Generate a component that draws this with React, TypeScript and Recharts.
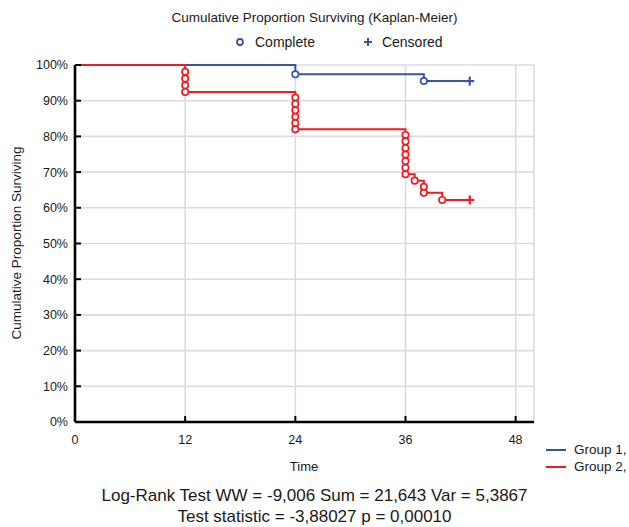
import React from 'react';
import {
  ComposedChart,
  Line,
  Scatter,
  XAxis,
  YAxis,
  CartesianGrid,
} from 'recharts';

// survival curve steps (time, % surviving)
const group1Steps = [
  { t: 0, s: 100 },
  { t: 24, s: 97.4 },
  { t: 38, s: 95.5 },
  { t: 43, s: 95.5 },
];
const group2Steps = [
  { t: 0, s: 100 },
  { t: 12, s: 92.45 },
  { t: 24, s: 82.0 },
  { t: 36, s: 69.4 },
  { t: 37, s: 67.6 },
  { t: 38, s: 64.2 },
  { t: 40, s: 62.2 },
  { t: 43, s: 62.2 },
];

// complete (event) markers
const group1Complete = [
  { t: 24, s: 97.4 },
  { t: 38, s: 95.5 },
];
const group2Complete = [
  { t: 12, s: 98.1 },
  { t: 12, s: 96.2 },
  { t: 12, s: 94.3 },
  { t: 12, s: 92.45 },
  { t: 24, s: 90.9 },
  { t: 24, s: 89.1 },
  { t: 24, s: 87.3 },
  { t: 24, s: 85.5 },
  { t: 24, s: 83.7 },
  { t: 24, s: 82.0 },
  { t: 36, s: 80.4 },
  { t: 36, s: 78.6 },
  { t: 36, s: 76.7 },
  { t: 36, s: 74.9 },
  { t: 36, s: 73.1 },
  { t: 36, s: 71.2 },
  { t: 36, s: 69.4 },
  { t: 37, s: 67.6 },
  { t: 38, s: 65.9 },
  { t: 38, s: 64.2 },
  { t: 40, s: 62.2 },
];

// censored markers
const group1Censored = [{ t: 43, s: 95.5 }];
const group2Censored = [{ t: 43, s: 62.2 }];

const xTicks = [0, 12, 24, 36, 48];
const yTicks = [0, 10, 20, 30, 40, 50, 60, 70, 80, 90, 100];
const topTicks = [0, 5.556, 11.111, 16.667, 22.222, 27.778, 33.333, 38.889, 44.444, 50];
const rightTicks = [0, 8.333, 16.667, 25, 33.333, 41.667, 50, 58.333, 66.667, 75, 83.333, 91.667, 100];

const BLUE = '#3a54a0';
const RED = '#f01c24';
const FONT = '"Liberation Sans", Arial, sans-serif';

const makeCircle = (color: string) => (props: any) => {
  const { cx, cy } = props;
  if (cx == null || cy == null) return <g />;
  return <circle cx={cx} cy={cy} r={3.2} fill="#ffffff" stroke={color} strokeWidth={1.7} />;
};

const makePlus = (color: string) => (props: any) => {
  const { cx, cy } = props;
  if (cx == null || cy == null) return <g />;
  return (
    <g stroke={color} strokeWidth={2.2}>
      <line x1={cx - 4.5} y1={cy} x2={cx + 4.5} y2={cy} />
      <line x1={cx} y1={cy - 4.5} x2={cx} y2={cy + 4.5} />
    </g>
  );
};

const tickStyle = { fill: '#1a1a1a', fontSize: 12.5, fontFamily: FONT };
const axisLineStyle = { stroke: '#000000', strokeWidth: 2.6 };
const tickLineStyle = { stroke: '#000000', strokeWidth: 2 };

export default function App() {
  return (
    <div style={{ position: 'absolute', left: 0, top: 0, width: 629, height: 527, background: '#fff', fontFamily: FONT, color: '#1a1a1a' }}>
      <div style={{ position: 'absolute', left: 0, width: 629, top: 10, textAlign: 'center', fontSize: 13.5 }}>
        Cumulative Proportion Surviving (Kaplan-Meier)
      </div>
      <div style={{ position: 'absolute', left: 233, top: 34, fontSize: 14, display: 'flex', alignItems: 'center' }}>
        <svg width={14} height={14}><circle cx={7} cy={7} r={3} fill="#fff" stroke={BLUE} strokeWidth={1.8} /></svg>
        <span style={{ marginLeft: 8 }}>Complete</span>
        <svg width={14} height={14} style={{ marginLeft: 46 }}>
          <g stroke={BLUE} strokeWidth={2}><line x1={3} y1={7} x2={11} y2={7} /><line x1={7} y1={3} x2={7} y2={11} /></g>
        </svg>
        <span style={{ marginLeft: 7 }}>Censored</span>
      </div>
      <div style={{ position: 'absolute', left: 16, top: 243, fontSize: 13.5, whiteSpace: 'nowrap', transform: 'translate(-50%, -50%) rotate(-90deg)' }}>
        Cumulative Proportion Surviving
      </div>
      <div style={{ position: 'absolute', left: 304, top: 466, fontSize: 13, transform: 'translate(-50%, -50%)' }}>Time</div>

      <ComposedChart
        width={629}
        height={527}
        margin={{ top: 65, right: 95, bottom: 75, left: 15 }}
        style={{ position: 'absolute', left: 0, top: 0 }}
      >
        <CartesianGrid stroke="#dcdcdc" strokeWidth={1.6} />
        <XAxis
          dataKey="t"
          type="number"
          domain={[0, 50]}
          ticks={xTicks}
          height={30}
          tick={tickStyle}
          tickSize={-6}
          tickMargin={19}
          axisLine={axisLineStyle}
          tickLine={tickLineStyle}
        />
        <XAxis
          xAxisId="top"
          orientation="top"
          dataKey="t"
          type="number"
          domain={[0, 50]}
          ticks={topTicks}
          height={0}
          tickFormatter={() => ''}
          tickSize={-6}
          axisLine={axisLineStyle}
          tickLine={tickLineStyle}
        />
        <YAxis
          dataKey="s"
          type="number"
          domain={[0, 100]}
          ticks={yTicks}
          width={60}
          tick={tickStyle}
          tickFormatter={(v) => `${v}%`}
          tickSize={-6}
          tickMargin={13}
          axisLine={axisLineStyle}
          tickLine={tickLineStyle}
        />
        <YAxis
          yAxisId="right"
          orientation="right"
          dataKey="s"
          type="number"
          domain={[0, 100]}
          ticks={rightTicks}
          width={0}
          tickFormatter={() => ''}
          tickSize={-6}
          axisLine={axisLineStyle}
          tickLine={tickLineStyle}
        />
        <Line data={group1Steps} dataKey="s" type="stepAfter" stroke={BLUE} strokeWidth={2} dot={false} activeDot={false} isAnimationActive={false} />
        <Scatter data={group1Complete} dataKey="s" shape={makeCircle(BLUE)} isAnimationActive={false} />
        <Scatter data={group1Censored} dataKey="s" xAxisId="top" yAxisId="right" shape={makePlus(BLUE)} isAnimationActive={false} />
        <Line data={group2Steps} dataKey="s" type="stepAfter" stroke={RED} strokeWidth={2} dot={false} activeDot={false} isAnimationActive={false} />
        <Scatter data={group2Complete} dataKey="s" shape={makeCircle(RED)} isAnimationActive={false} />
        <Scatter data={group2Censored} dataKey="s" xAxisId="top" yAxisId="right" shape={makePlus(RED)} isAnimationActive={false} />
      </ComposedChart>

      <div style={{ position: 'absolute', left: 546, top: 442, fontSize: 13.5, display: 'flex', alignItems: 'center' }}>
        <div style={{ width: 20, height: 2, background: BLUE }} />
        <span style={{ marginLeft: 8 }}>Group 1,</span>
      </div>
      <div style={{ position: 'absolute', left: 546, top: 459, fontSize: 13.5, display: 'flex', alignItems: 'center' }}>
        <div style={{ width: 20, height: 2, background: RED }} />
        <span style={{ marginLeft: 8 }}>Group 2,</span>
      </div>

      <div style={{ position: 'absolute', left: 0, width: 629, top: 485, textAlign: 'center', fontSize: 17, lineHeight: '21px' }}>
        <div>Log-Rank Test WW = -9,006 Sum = 21,643 Var = 5,3867</div>
        <div>Test statistic = -3,88027 p = 0,00010</div>
      </div>
    </div>
  );
}
